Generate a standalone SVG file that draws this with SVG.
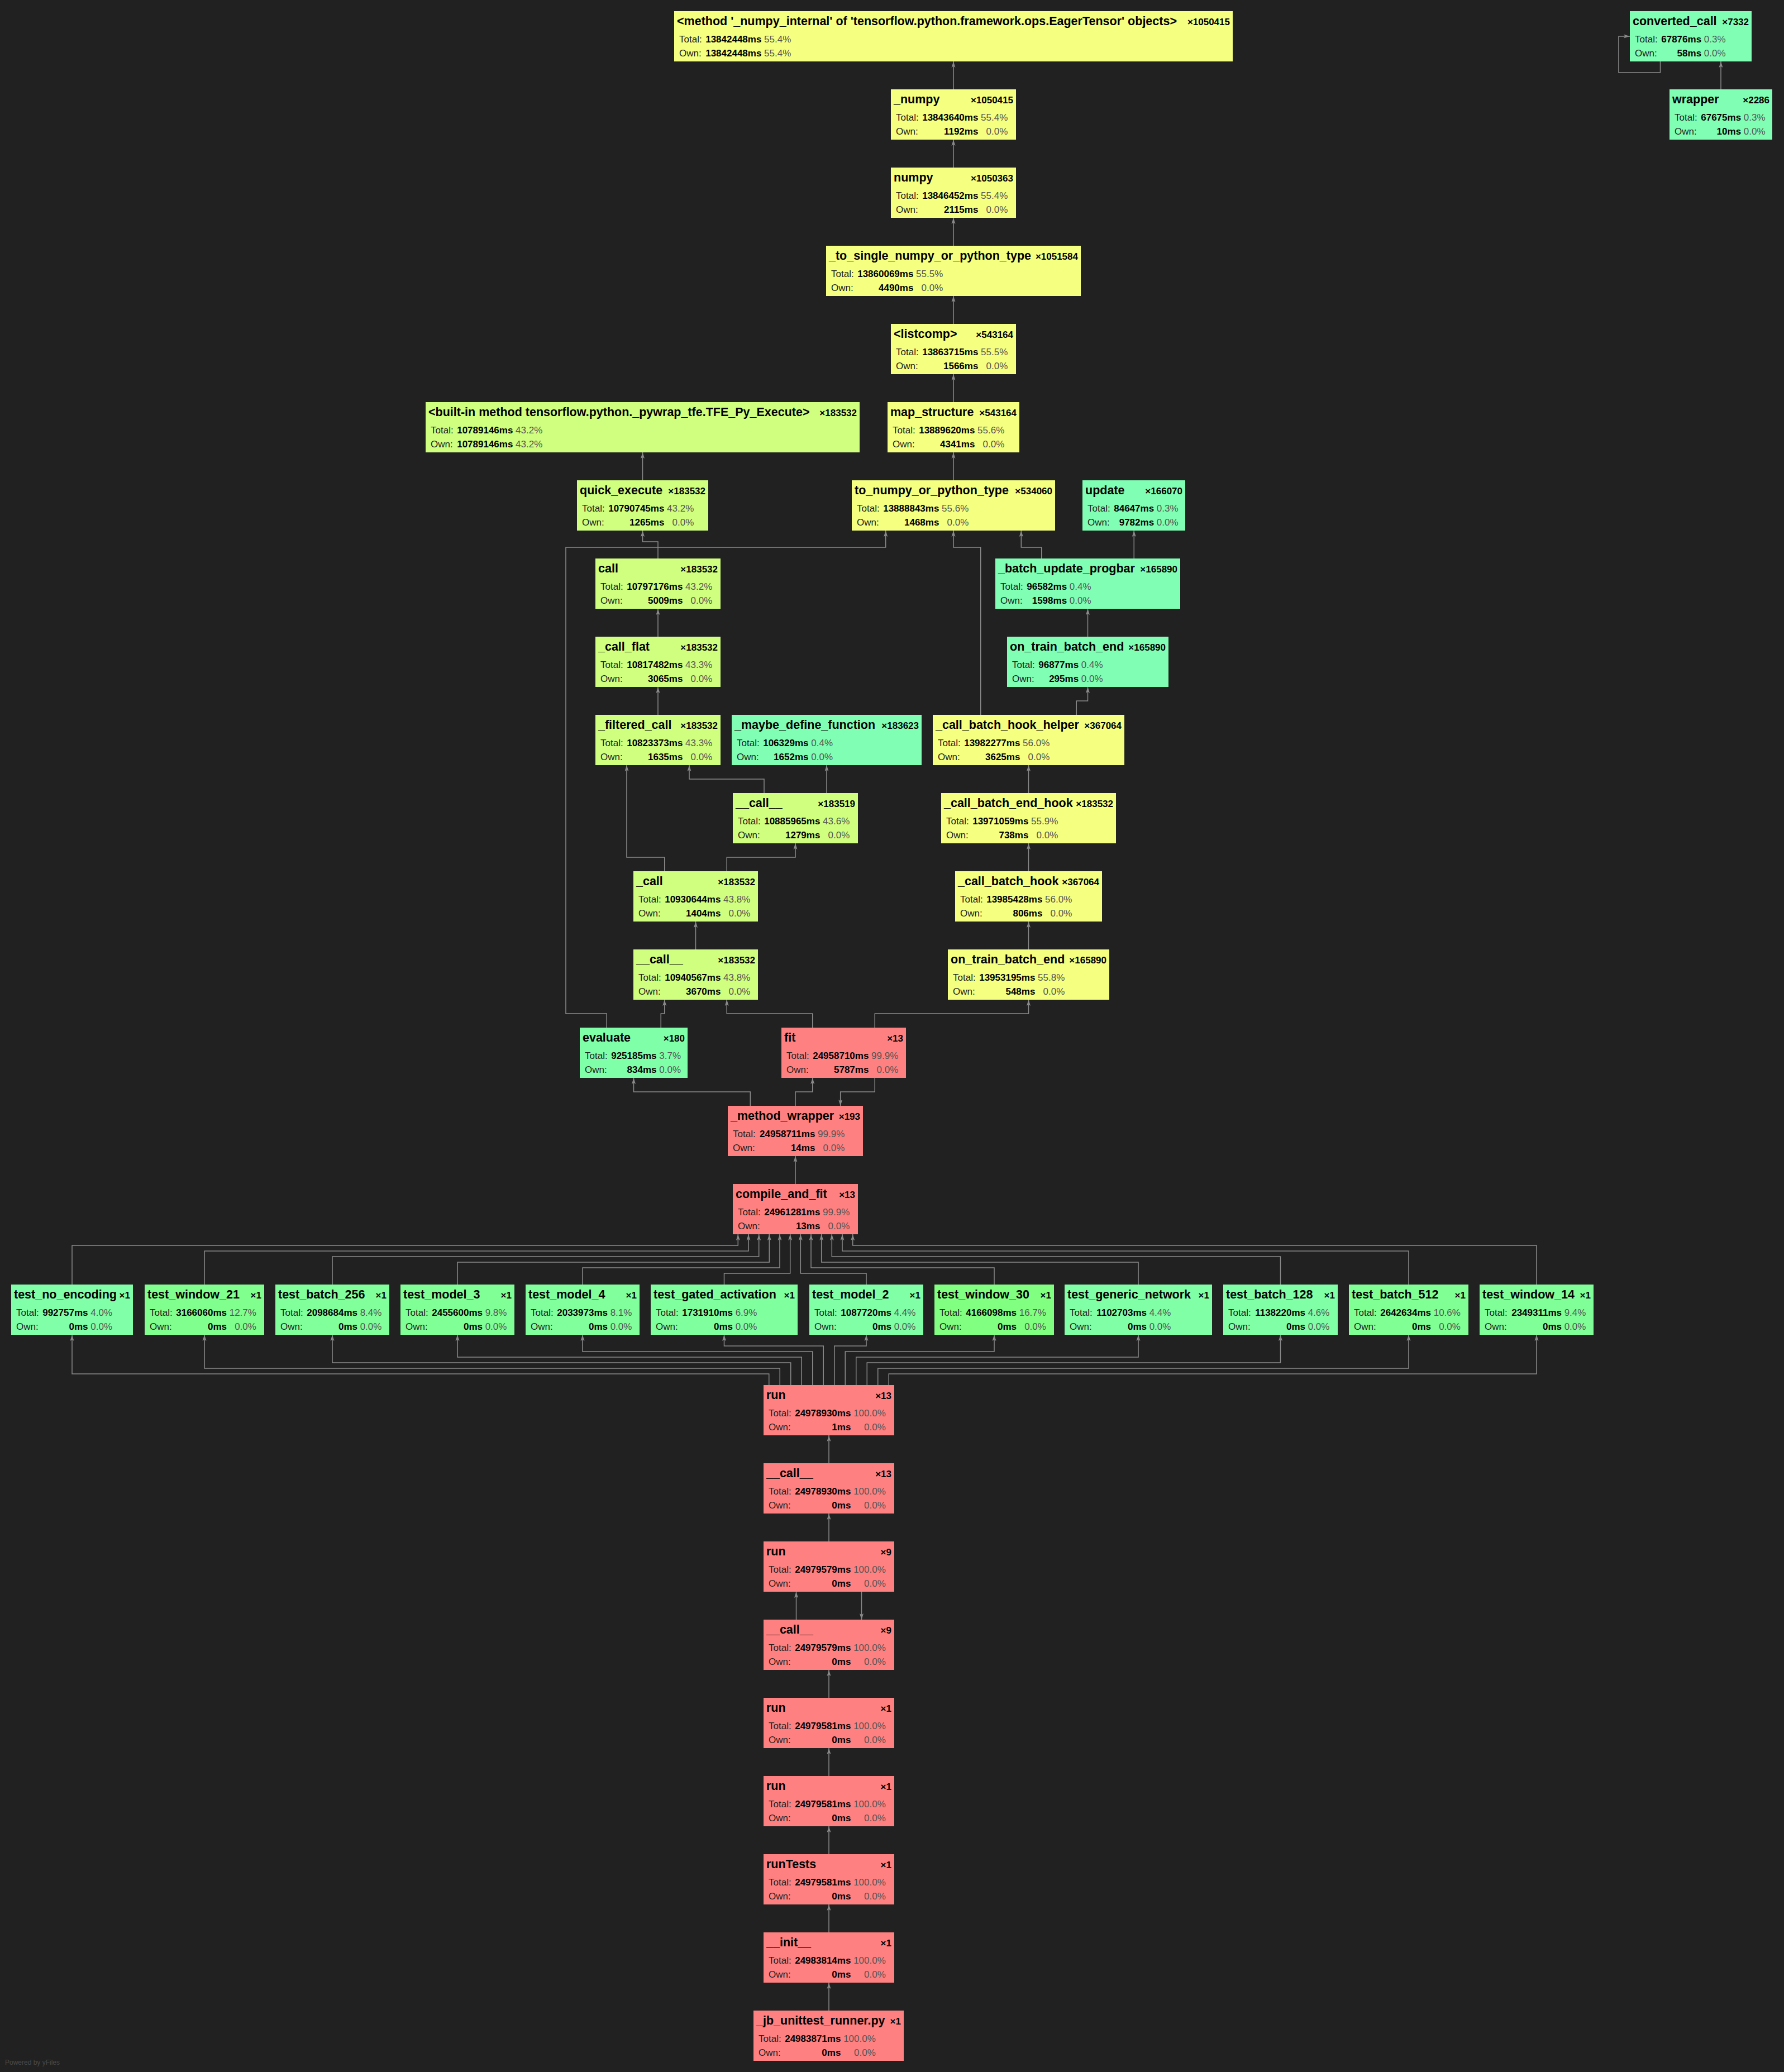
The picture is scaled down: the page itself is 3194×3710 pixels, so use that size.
<svg xmlns="http://www.w3.org/2000/svg" width="3194" height="3710" viewBox="0 0 3194 3710">
<style>
.t{font-family:"Liberation Sans",Arial,sans-serif;font-size:21.5px;font-weight:bold;fill:#000}
.c{font-family:"Liberation Sans",Arial,sans-serif;font-size:17px;font-weight:bold;fill:#000;text-anchor:end}
.l{font-family:"Liberation Sans",Arial,sans-serif;font-size:17px;fill:#222}
.v{font-family:"Liberation Sans",Arial,sans-serif;font-size:17px;font-weight:bold;fill:#000;text-anchor:end}
.p{font-family:"Liberation Sans",Arial,sans-serif;font-size:17px;fill:#555;text-anchor:end}
.e{fill:none;stroke:#8a8a8a;stroke-width:1.5;marker-end:url(#a)}
.y1{fill:hsl(64.5,100%,75%)}
.y2{fill:hsl(82,100%,75%)}
.g0{fill:hsl(144.5,100%,75%)}
.r{fill:#ff8080}
.f{font-family:"Liberation Sans",Arial,sans-serif;font-size:12px;fill:#4a4a4a}
</style>
<defs>
<marker id="a" markerUnits="userSpaceOnUse" markerWidth="12" markerHeight="8" refX="11" refY="4" orient="auto">
<path d="M0,0.5 L11,4 L0,7.5 L2.5,4 z" fill="#8a8a8a"/>
</marker>
</defs>
<rect width="3194" height="3710" fill="#212121"/>

<g id="edges">
<path class="e" d="M1707,160 V110"/>
<path class="e" d="M1707,300 V250"/>
<path class="e" d="M1707,440 V390"/>
<path class="e" d="M1707,580 V530"/>
<path class="e" d="M1707,720 V670"/>
<path class="e" d="M1707,860 V810"/>
<path class="e" d="M1150.5,860 V810"/>
<path class="e" d="M1178,1000 V970 H1150.5 V950"/>
<path class="e" d="M1178,1140 V1090"/>
<path class="e" d="M1178,1280 V1230"/>
<path class="e" d="M1189.75,1560 V1535 H1122 V1370"/>
<path class="e" d="M1368,1420 V1395 H1234 V1370"/>
<path class="e" d="M1480,1420 V1370"/>
<path class="e" d="M1301.25,1560 V1535 H1424 V1510"/>
<path class="e" d="M1245.5,1700 V1650"/>
<path class="e" d="M1183.25,1840 V1815 H1189.75 V1790"/>
<path class="e" d="M1086.25,1840 V1815 H1013 V980 H1585.7 V950"/>
<path class="e" d="M1454.75,1840 V1815 H1301.25 V1790"/>
<path class="e" d="M1566.25,1840 V1815 H1841.5 V1790"/>
<path class="e" d="M1841.5,1700 V1650"/>
<path class="e" d="M1841.5,1560 V1510"/>
<path class="e" d="M1841.5,1420 V1370"/>
<path class="e" d="M1755.75,1280 V980 H1707 V950"/>
<path class="e" d="M1927.25,1280 V1255 H1947.5 V1230"/>
<path class="e" d="M1947.5,1140 V1090"/>
<path class="e" d="M1864.75,1000 V980 H1828.3 V950"/>
<path class="e" d="M2030.25,1000 V950"/>
<path class="e" d="M1343.3,1980 V1955 H1134.5 V1930"/>
<path class="e" d="M1424,1980 V1955 H1454.75 V1930"/>
<path class="e" d="M1566.25,1930 V1955 H1504.7 V1980"/>
<path class="e" d="M1424,2120 V2070"/>
<path class="e" d="M129,2300 V2230 H1321.3 V2210"/>
<path class="e" d="M366,2300 V2240 H1340 V2210"/>
<path class="e" d="M595,2300 V2250 H1358.7 V2210"/>
<path class="e" d="M819,2300 V2260 H1377.3 V2210"/>
<path class="e" d="M1043,2300 V2270 H1396 V2210"/>
<path class="e" d="M1296.5,2300 V2280 H1414.7 V2210"/>
<path class="e" d="M1551,2300 V2280 H1433.3 V2210"/>
<path class="e" d="M1780,2300 V2270 H1452 V2210"/>
<path class="e" d="M2038,2300 V2260 H1470.7 V2210"/>
<path class="e" d="M2292.5,2300 V2250 H1489.3 V2210"/>
<path class="e" d="M2522,2300 V2240 H1508 V2210"/>
<path class="e" d="M2751,2300 V2230 H1526.7 V2210"/>
<path class="e" d="M1376.75,2480 V2460 H129 V2390"/>
<path class="e" d="M1396.25,2480 V2450 H366 V2390"/>
<path class="e" d="M1415.75,2480 V2440 H595 V2390"/>
<path class="e" d="M1435.25,2480 V2430 H819 V2390"/>
<path class="e" d="M1454.75,2480 V2420 H1043 V2390"/>
<path class="e" d="M1474.25,2480 V2410 H1296.5 V2390"/>
<path class="e" d="M1493.75,2480 V2410 H1551 V2390"/>
<path class="e" d="M1513.25,2480 V2420 H1780 V2390"/>
<path class="e" d="M1532.75,2480 V2430 H2038 V2390"/>
<path class="e" d="M1552.25,2480 V2440 H2292.5 V2390"/>
<path class="e" d="M1571.75,2480 V2450 H2522 V2390"/>
<path class="e" d="M1591.25,2480 V2460 H2751 V2390"/>
<path class="e" d="M1484,2620 V2570"/>
<path class="e" d="M1484,2760 V2710"/>
<path class="e" d="M1425.5,2900 V2850"/>
<path class="e" d="M1542.5,2850 V2900"/>
<path class="e" d="M1484,3040 V2990"/>
<path class="e" d="M1484,3180 V3130"/>
<path class="e" d="M1484,3320 V3270"/>
<path class="e" d="M1484,3460 V3410"/>
<path class="e" d="M1484,3600 V3550"/>
<path class="e" d="M3081,160 V110"/>
<path class="e" d="M2972.5,110 V130 H2898 V65 H2918"/>
</g>

<g id="n-numpy-internal"><rect class="y1" x="1207" y="20" width="1000" height="90"/>
<text class="t" x="1212" y="45">&lt;method '_numpy_internal' of 'tensorflow.python.framework.ops.EagerTensor' objects&gt;</text><text class="c" x="2202" y="45">×1050415</text>
<text class="l" x="1216" y="76">Total:</text><text class="v" x="1363.4" y="76">13842448ms</text><text class="p" x="1416.3" y="76">55.4%</text>
<text class="l" x="1216" y="101">Own:</text><text class="v" x="1363.4" y="101">13842448ms</text><text class="p" x="1416.3" y="101">55.4%</text></g>

<g id="n-converted-call"><rect class="g0" x="2918" y="20" width="218" height="90"/>
<text class="t" x="2923" y="45">converted_call</text><text class="c" x="3131" y="45">×7332</text>
<text class="l" x="2927" y="76">Total:</text><text class="v" x="3046.1" y="76">67876ms</text><text class="p" x="3089.6" y="76">0.3%</text>
<text class="l" x="2927" y="101">Own:</text><text class="v" x="3046.1" y="101">58ms</text><text class="p" x="3089.6" y="101">0.0%</text></g>

<g id="n-_numpy"><rect class="y1" x="1595" y="160" width="224" height="90"/>
<text class="t" x="1600" y="185">_numpy</text><text class="c" x="1814" y="185">×1050415</text>
<text class="l" x="1604" y="216">Total:</text><text class="v" x="1751.4" y="216">13843640ms</text><text class="p" x="1804.3" y="216">55.4%</text>
<text class="l" x="1604" y="241">Own:</text><text class="v" x="1751.4" y="241">1192ms</text><text class="p" x="1804.3" y="241">0.0%</text></g>

<g id="n-wrapper"><rect class="g0" x="2989" y="160" width="184" height="90"/>
<text class="t" x="2994" y="185">wrapper</text><text class="c" x="3168" y="185">×2286</text>
<text class="l" x="2998" y="216">Total:</text><text class="v" x="3117.1" y="216">67675ms</text><text class="p" x="3160.5" y="216">0.3%</text>
<text class="l" x="2998" y="241">Own:</text><text class="v" x="3117.1" y="241">10ms</text><text class="p" x="3160.5" y="241">0.0%</text></g>

<g id="n-numpy"><rect class="y1" x="1595" y="300" width="224" height="90"/>
<text class="t" x="1600" y="325">numpy</text><text class="c" x="1814" y="325">×1050363</text>
<text class="l" x="1604" y="356">Total:</text><text class="v" x="1751.4" y="356">13846452ms</text><text class="p" x="1804.3" y="356">55.4%</text>
<text class="l" x="1604" y="381">Own:</text><text class="v" x="1751.4" y="381">2115ms</text><text class="p" x="1804.3" y="381">0.0%</text></g>

<g id="n-to-single"><rect class="y1" x="1479" y="440" width="456" height="90"/>
<text class="t" x="1484" y="465">_to_single_numpy_or_python_type</text><text class="c" x="1930" y="465">×1051584</text>
<text class="l" x="1488" y="496">Total:</text><text class="v" x="1635.4" y="496">13860069ms</text><text class="p" x="1688.3" y="496">55.5%</text>
<text class="l" x="1488" y="521">Own:</text><text class="v" x="1635.4" y="521">4490ms</text><text class="p" x="1688.3" y="521">0.0%</text></g>

<g id="n-listcomp"><rect class="y1" x="1595" y="580" width="224" height="90"/>
<text class="t" x="1600" y="605">&lt;listcomp&gt;</text><text class="c" x="1814" y="605">×543164</text>
<text class="l" x="1604" y="636">Total:</text><text class="v" x="1751.4" y="636">13863715ms</text><text class="p" x="1804.3" y="636">55.5%</text>
<text class="l" x="1604" y="661">Own:</text><text class="v" x="1751.4" y="661">1566ms</text><text class="p" x="1804.3" y="661">0.0%</text></g>

<g id="n-builtin"><rect class="y2" x="762" y="720" width="777" height="90"/>
<text class="t" x="767" y="745">&lt;built-in method tensorflow.python._pywrap_tfe.TFE_Py_Execute&gt;</text><text class="c" x="1534" y="745">×183532</text>
<text class="l" x="771" y="776">Total:</text><text class="v" x="918.4" y="776">10789146ms</text><text class="p" x="971.3" y="776">43.2%</text>
<text class="l" x="771" y="801">Own:</text><text class="v" x="918.4" y="801">10789146ms</text><text class="p" x="971.3" y="801">43.2%</text></g>

<g id="n-map-structure"><rect class="y1" x="1589" y="720" width="236" height="90"/>
<text class="t" x="1594" y="745">map_structure</text><text class="c" x="1820" y="745">×543164</text>
<text class="l" x="1598" y="776">Total:</text><text class="v" x="1745.4" y="776">13889620ms</text><text class="p" x="1798.3" y="776">55.6%</text>
<text class="l" x="1598" y="801">Own:</text><text class="v" x="1745.4" y="801">4341ms</text><text class="p" x="1798.3" y="801">0.0%</text></g>

<g id="n-quick-execute"><rect class="y2" x="1033" y="860" width="235" height="90"/>
<text class="t" x="1038" y="885">quick_execute</text><text class="c" x="1263" y="885">×183532</text>
<text class="l" x="1042" y="916">Total:</text><text class="v" x="1189.4" y="916">10790745ms</text><text class="p" x="1242.3" y="916">43.2%</text>
<text class="l" x="1042" y="941">Own:</text><text class="v" x="1189.4" y="941">1265ms</text><text class="p" x="1242.3" y="941">0.0%</text></g>

<g id="n-to-numpy"><rect class="y1" x="1525" y="860" width="364" height="90"/>
<text class="t" x="1530" y="885">to_numpy_or_python_type</text><text class="c" x="1884" y="885">×534060</text>
<text class="l" x="1534" y="916">Total:</text><text class="v" x="1681.4" y="916">13888843ms</text><text class="p" x="1734.3" y="916">55.6%</text>
<text class="l" x="1534" y="941">Own:</text><text class="v" x="1681.4" y="941">1468ms</text><text class="p" x="1734.3" y="941">0.0%</text></g>

<g id="n-update"><rect class="g0" x="1938" y="860" width="184" height="90"/>
<text class="t" x="1943" y="885">update</text><text class="c" x="2117" y="885">×166070</text>
<text class="l" x="1947" y="916">Total:</text><text class="v" x="2066.1" y="916">84647ms</text><text class="p" x="2109.5" y="916">0.3%</text>
<text class="l" x="1947" y="941">Own:</text><text class="v" x="2066.1" y="941">9782ms</text><text class="p" x="2109.5" y="941">0.0%</text></g>

<g id="n-call"><rect class="y2" x="1066" y="1000" width="224" height="90"/>
<text class="t" x="1071" y="1025">call</text><text class="c" x="1285" y="1025">×183532</text>
<text class="l" x="1075" y="1056">Total:</text><text class="v" x="1222.4" y="1056">10797176ms</text><text class="p" x="1275.3" y="1056">43.2%</text>
<text class="l" x="1075" y="1081">Own:</text><text class="v" x="1222.4" y="1081">5009ms</text><text class="p" x="1275.3" y="1081">0.0%</text></g>

<g id="n-progbar"><rect class="g0" x="1782" y="1000" width="331" height="90"/>
<text class="t" x="1787" y="1025">_batch_update_progbar</text><text class="c" x="2108" y="1025">×165890</text>
<text class="l" x="1791" y="1056">Total:</text><text class="v" x="1910.1" y="1056">96582ms</text><text class="p" x="1953.5" y="1056">0.4%</text>
<text class="l" x="1791" y="1081">Own:</text><text class="v" x="1910.1" y="1081">1598ms</text><text class="p" x="1953.5" y="1081">0.0%</text></g>

<g id="n-call-flat"><rect class="y2" x="1066" y="1140" width="224" height="90"/>
<text class="t" x="1071" y="1165">_call_flat</text><text class="c" x="1285" y="1165">×183532</text>
<text class="l" x="1075" y="1196">Total:</text><text class="v" x="1222.4" y="1196">10817482ms</text><text class="p" x="1275.3" y="1196">43.3%</text>
<text class="l" x="1075" y="1221">Own:</text><text class="v" x="1222.4" y="1221">3065ms</text><text class="p" x="1275.3" y="1221">0.0%</text></g>

<g id="n-on-train-green"><rect class="g0" x="1803" y="1140" width="289" height="90"/>
<text class="t" x="1808" y="1165">on_train_batch_end</text><text class="c" x="2087" y="1165">×165890</text>
<text class="l" x="1812" y="1196">Total:</text><text class="v" x="1931.1" y="1196">96877ms</text><text class="p" x="1974.5" y="1196">0.4%</text>
<text class="l" x="1812" y="1221">Own:</text><text class="v" x="1931.1" y="1221">295ms</text><text class="p" x="1974.5" y="1221">0.0%</text></g>

<g id="n-filtered-call"><rect class="y2" x="1066" y="1280" width="224" height="90"/>
<text class="t" x="1071" y="1305">_filtered_call</text><text class="c" x="1285" y="1305">×183532</text>
<text class="l" x="1075" y="1336">Total:</text><text class="v" x="1222.4" y="1336">10823373ms</text><text class="p" x="1275.3" y="1336">43.3%</text>
<text class="l" x="1075" y="1361">Own:</text><text class="v" x="1222.4" y="1361">1635ms</text><text class="p" x="1275.3" y="1361">0.0%</text></g>

<g id="n-maybe-define"><rect class="g0" x="1310" y="1280" width="340" height="90"/>
<text class="t" x="1315" y="1305">_maybe_define_function</text><text class="c" x="1645" y="1305">×183623</text>
<text class="l" x="1319" y="1336">Total:</text><text class="v" x="1447.5" y="1336">106329ms</text><text class="p" x="1491" y="1336">0.4%</text>
<text class="l" x="1319" y="1361">Own:</text><text class="v" x="1447.5" y="1361">1652ms</text><text class="p" x="1491" y="1361">0.0%</text></g>

<g id="n-hook-helper"><rect class="y1" x="1670" y="1280" width="343" height="90"/>
<text class="t" x="1675" y="1305">_call_batch_hook_helper</text><text class="c" x="2008" y="1305">×367064</text>
<text class="l" x="1679" y="1336">Total:</text><text class="v" x="1826.4" y="1336">13982277ms</text><text class="p" x="1879.3" y="1336">56.0%</text>
<text class="l" x="1679" y="1361">Own:</text><text class="v" x="1826.4" y="1361">3625ms</text><text class="p" x="1879.3" y="1361">0.0%</text></g>

<g id="n-dcall-183519"><rect class="y2" x="1312" y="1420" width="224" height="90"/>
<text class="t" x="1317" y="1445">__call__</text><text class="c" x="1531" y="1445">×183519</text>
<text class="l" x="1321" y="1476">Total:</text><text class="v" x="1468.4" y="1476">10885965ms</text><text class="p" x="1521.3" y="1476">43.6%</text>
<text class="l" x="1321" y="1501">Own:</text><text class="v" x="1468.4" y="1501">1279ms</text><text class="p" x="1521.3" y="1501">0.0%</text></g>

<g id="n-end-hook"><rect class="y1" x="1685" y="1420" width="313" height="90"/>
<text class="t" x="1690" y="1445">_call_batch_end_hook</text><text class="c" x="1993" y="1445">×183532</text>
<text class="l" x="1694" y="1476">Total:</text><text class="v" x="1841.4" y="1476">13971059ms</text><text class="p" x="1894.3" y="1476">55.9%</text>
<text class="l" x="1694" y="1501">Own:</text><text class="v" x="1841.4" y="1501">738ms</text><text class="p" x="1894.3" y="1501">0.0%</text></g>

<g id="n-_call"><rect class="y2" x="1134" y="1560" width="223" height="90"/>
<text class="t" x="1139" y="1585">_call</text><text class="c" x="1352" y="1585">×183532</text>
<text class="l" x="1143" y="1616">Total:</text><text class="v" x="1290.4" y="1616">10930644ms</text><text class="p" x="1343.3" y="1616">43.8%</text>
<text class="l" x="1143" y="1641">Own:</text><text class="v" x="1290.4" y="1641">1404ms</text><text class="p" x="1343.3" y="1641">0.0%</text></g>

<g id="n-batch-hook"><rect class="y1" x="1710" y="1560" width="263" height="90"/>
<text class="t" x="1715" y="1585">_call_batch_hook</text><text class="c" x="1968" y="1585">×367064</text>
<text class="l" x="1719" y="1616">Total:</text><text class="v" x="1866.4" y="1616">13985428ms</text><text class="p" x="1919.3" y="1616">56.0%</text>
<text class="l" x="1719" y="1641">Own:</text><text class="v" x="1866.4" y="1641">806ms</text><text class="p" x="1919.3" y="1641">0.0%</text></g>

<g id="n-dcall-183532"><rect class="y2" x="1134" y="1700" width="223" height="90"/>
<text class="t" x="1139" y="1725">__call__</text><text class="c" x="1352" y="1725">×183532</text>
<text class="l" x="1143" y="1756">Total:</text><text class="v" x="1290.4" y="1756">10940567ms</text><text class="p" x="1343.3" y="1756">43.8%</text>
<text class="l" x="1143" y="1781">Own:</text><text class="v" x="1290.4" y="1781">3670ms</text><text class="p" x="1343.3" y="1781">0.0%</text></g>

<g id="n-on-train-yellow"><rect class="y1" x="1697" y="1700" width="289" height="90"/>
<text class="t" x="1702" y="1725">on_train_batch_end</text><text class="c" x="1981" y="1725">×165890</text>
<text class="l" x="1706" y="1756">Total:</text><text class="v" x="1853.4" y="1756">13953195ms</text><text class="p" x="1906.3" y="1756">55.8%</text>
<text class="l" x="1706" y="1781">Own:</text><text class="v" x="1853.4" y="1781">548ms</text><text class="p" x="1906.3" y="1781">0.0%</text></g>

<g id="n-evaluate"><rect x="1038" y="1840" width="193" height="90" fill="hsl(139.6,100%,75%)"/>
<text class="t" x="1043" y="1865">evaluate</text><text class="c" x="1226" y="1865">×180</text>
<text class="l" x="1047" y="1896">Total:</text><text class="v" x="1175.5" y="1896">925185ms</text><text class="p" x="1219" y="1896">3.7%</text>
<text class="l" x="1047" y="1921">Own:</text><text class="v" x="1175.5" y="1921">834ms</text><text class="p" x="1219" y="1921">0.0%</text></g>

<g id="n-fit"><rect class="r" x="1399" y="1840" width="223" height="90"/>
<text class="t" x="1404" y="1865">fit</text><text class="c" x="1617" y="1865">×13</text>
<text class="l" x="1408" y="1896">Total:</text><text class="v" x="1555.4" y="1896">24958710ms</text><text class="p" x="1608.3" y="1896">99.9%</text>
<text class="l" x="1408" y="1921">Own:</text><text class="v" x="1555.4" y="1921">5787ms</text><text class="p" x="1608.3" y="1921">0.0%</text></g>

<g id="n-method-wrapper"><rect class="r" x="1303" y="1980" width="242" height="90"/>
<text class="t" x="1308" y="2005">_method_wrapper</text><text class="c" x="1540" y="2005">×193</text>
<text class="l" x="1312" y="2036">Total:</text><text class="v" x="1459.4" y="2036">24958711ms</text><text class="p" x="1512.3" y="2036">99.9%</text>
<text class="l" x="1312" y="2061">Own:</text><text class="v" x="1459.4" y="2061">14ms</text><text class="p" x="1512.3" y="2061">0.0%</text></g>

<g id="n-compile-and-fit"><rect class="r" x="1312" y="2120" width="224" height="90"/>
<text class="t" x="1317" y="2145">compile_and_fit</text><text class="c" x="1531" y="2145">×13</text>
<text class="l" x="1321" y="2176">Total:</text><text class="v" x="1468.4" y="2176">24961281ms</text><text class="p" x="1521.3" y="2176">99.9%</text>
<text class="l" x="1321" y="2201">Own:</text><text class="v" x="1468.4" y="2201">13ms</text><text class="p" x="1521.3" y="2201">0.0%</text></g>

<g id="n-test-no-encoding"><rect x="20" y="2300" width="218" height="90" fill="hsl(139.2,100%,75%)"/>
<text class="t" x="25" y="2325">test_no_encoding</text><text class="c" x="233" y="2325">×1</text>
<text class="l" x="29" y="2356">Total:</text><text class="v" x="157.5" y="2356">992757ms</text><text class="p" x="201" y="2356">4.0%</text>
<text class="l" x="29" y="2381">Own:</text><text class="v" x="157.5" y="2381">0ms</text><text class="p" x="201" y="2381">0.0%</text></g>

<g id="n-test-window-21"><rect x="259" y="2300" width="214" height="90" fill="hsl(126.6,100%,75%)"/>
<text class="t" x="264" y="2325">test_window_21</text><text class="c" x="468" y="2325">×1</text>
<text class="l" x="268" y="2356">Total:</text><text class="v" x="406" y="2356">3166060ms</text><text class="p" x="458.9" y="2356">12.7%</text>
<text class="l" x="268" y="2381">Own:</text><text class="v" x="406" y="2381">0ms</text><text class="p" x="458.9" y="2381">0.0%</text></g>

<g id="n-test-batch-256"><rect x="493" y="2300" width="204" height="90" fill="hsl(132.8,100%,75%)"/>
<text class="t" x="498" y="2325">test_batch_256</text><text class="c" x="692" y="2325">×1</text>
<text class="l" x="502" y="2356">Total:</text><text class="v" x="640" y="2356">2098684ms</text><text class="p" x="683.4" y="2356">8.4%</text>
<text class="l" x="502" y="2381">Own:</text><text class="v" x="640" y="2381">0ms</text><text class="p" x="683.4" y="2381">0.0%</text></g>

<g id="n-test-model-3"><rect x="717" y="2300" width="204" height="90" fill="hsl(130.8,100%,75%)"/>
<text class="t" x="722" y="2325">test_model_3</text><text class="c" x="916" y="2325">×1</text>
<text class="l" x="726" y="2356">Total:</text><text class="v" x="864" y="2356">2455600ms</text><text class="p" x="907.4" y="2356">9.8%</text>
<text class="l" x="726" y="2381">Own:</text><text class="v" x="864" y="2381">0ms</text><text class="p" x="907.4" y="2381">0.0%</text></g>

<g id="n-test-model-4"><rect x="941" y="2300" width="204" height="90" fill="hsl(133.3,100%,75%)"/>
<text class="t" x="946" y="2325">test_model_4</text><text class="c" x="1140" y="2325">×1</text>
<text class="l" x="950" y="2356">Total:</text><text class="v" x="1088" y="2356">2033973ms</text><text class="p" x="1131.4" y="2356">8.1%</text>
<text class="l" x="950" y="2381">Own:</text><text class="v" x="1088" y="2381">0ms</text><text class="p" x="1131.4" y="2381">0.0%</text></g>

<g id="n-test-gated-activation"><rect x="1165" y="2300" width="263" height="90" fill="hsl(135,100%,75%)"/>
<text class="t" x="1170" y="2325">test_gated_activation</text><text class="c" x="1423" y="2325">×1</text>
<text class="l" x="1174" y="2356">Total:</text><text class="v" x="1312" y="2356">1731910ms</text><text class="p" x="1355.4" y="2356">6.9%</text>
<text class="l" x="1174" y="2381">Own:</text><text class="v" x="1312" y="2381">0ms</text><text class="p" x="1355.4" y="2381">0.0%</text></g>

<g id="n-test-model-2"><rect x="1449" y="2300" width="204" height="90" fill="hsl(138.6,100%,75%)"/>
<text class="t" x="1454" y="2325">test_model_2</text><text class="c" x="1648" y="2325">×1</text>
<text class="l" x="1458" y="2356">Total:</text><text class="v" x="1596" y="2356">1087720ms</text><text class="p" x="1639.4" y="2356">4.4%</text>
<text class="l" x="1458" y="2381">Own:</text><text class="v" x="1596" y="2381">0ms</text><text class="p" x="1639.4" y="2381">0.0%</text></g>

<g id="n-test-window-30"><rect x="1673" y="2300" width="214" height="90" fill="hsl(120.8,100%,75%)"/>
<text class="t" x="1678" y="2325">test_window_30</text><text class="c" x="1882" y="2325">×1</text>
<text class="l" x="1682" y="2356">Total:</text><text class="v" x="1820" y="2356">4166098ms</text><text class="p" x="1872.9" y="2356">16.7%</text>
<text class="l" x="1682" y="2381">Own:</text><text class="v" x="1820" y="2381">0ms</text><text class="p" x="1872.9" y="2381">0.0%</text></g>

<g id="n-test-generic-network"><rect x="1906" y="2300" width="264" height="90" fill="hsl(138.6,100%,75%)"/>
<text class="t" x="1911" y="2325">test_generic_network</text><text class="c" x="2165" y="2325">×1</text>
<text class="l" x="1915" y="2356">Total:</text><text class="v" x="2053" y="2356">1102703ms</text><text class="p" x="2096.4" y="2356">4.4%</text>
<text class="l" x="1915" y="2381">Own:</text><text class="v" x="2053" y="2381">0ms</text><text class="p" x="2096.4" y="2381">0.0%</text></g>

<g id="n-test-batch-128"><rect x="2190" y="2300" width="205" height="90" fill="hsl(138.3,100%,75%)"/>
<text class="t" x="2195" y="2325">test_batch_128</text><text class="c" x="2390" y="2325">×1</text>
<text class="l" x="2199" y="2356">Total:</text><text class="v" x="2337" y="2356">1138220ms</text><text class="p" x="2380.4" y="2356">4.6%</text>
<text class="l" x="2199" y="2381">Own:</text><text class="v" x="2337" y="2381">0ms</text><text class="p" x="2380.4" y="2381">0.0%</text></g>

<g id="n-test-batch-512"><rect x="2415" y="2300" width="214" height="90" fill="hsl(129.6,100%,75%)"/>
<text class="t" x="2420" y="2325">test_batch_512</text><text class="c" x="2624" y="2325">×1</text>
<text class="l" x="2424" y="2356">Total:</text><text class="v" x="2562" y="2356">2642634ms</text><text class="p" x="2614.9" y="2356">10.6%</text>
<text class="l" x="2424" y="2381">Own:</text><text class="v" x="2562" y="2381">0ms</text><text class="p" x="2614.9" y="2381">0.0%</text></g>

<g id="n-test-window-14"><rect x="2649" y="2300" width="204" height="90" fill="hsl(131.4,100%,75%)"/>
<text class="t" x="2654" y="2325">test_window_14</text><text class="c" x="2848" y="2325">×1</text>
<text class="l" x="2658" y="2356">Total:</text><text class="v" x="2796" y="2356">2349311ms</text><text class="p" x="2839.4" y="2356">9.4%</text>
<text class="l" x="2658" y="2381">Own:</text><text class="v" x="2796" y="2381">0ms</text><text class="p" x="2839.4" y="2381">0.0%</text></g>

<g id="n-run-13"><rect class="r" x="1367" y="2480" width="234" height="90"/>
<text class="t" x="1372" y="2505">run</text><text class="c" x="1596" y="2505">×13</text>
<text class="l" x="1376" y="2536">Total:</text><text class="v" x="1523.4" y="2536">24978930ms</text><text class="p" x="1585.8" y="2536">100.0%</text>
<text class="l" x="1376" y="2561">Own:</text><text class="v" x="1523.4" y="2561">1ms</text><text class="p" x="1585.8" y="2561">0.0%</text></g>

<g id="n-dcall-13"><rect class="r" x="1367" y="2620" width="234" height="90"/>
<text class="t" x="1372" y="2645">__call__</text><text class="c" x="1596" y="2645">×13</text>
<text class="l" x="1376" y="2676">Total:</text><text class="v" x="1523.4" y="2676">24978930ms</text><text class="p" x="1585.8" y="2676">100.0%</text>
<text class="l" x="1376" y="2701">Own:</text><text class="v" x="1523.4" y="2701">0ms</text><text class="p" x="1585.8" y="2701">0.0%</text></g>

<g id="n-run-9"><rect class="r" x="1367" y="2760" width="234" height="90"/>
<text class="t" x="1372" y="2785">run</text><text class="c" x="1596" y="2785">×9</text>
<text class="l" x="1376" y="2816">Total:</text><text class="v" x="1523.4" y="2816">24979579ms</text><text class="p" x="1585.8" y="2816">100.0%</text>
<text class="l" x="1376" y="2841">Own:</text><text class="v" x="1523.4" y="2841">0ms</text><text class="p" x="1585.8" y="2841">0.0%</text></g>

<g id="n-dcall-9"><rect class="r" x="1367" y="2900" width="234" height="90"/>
<text class="t" x="1372" y="2925">__call__</text><text class="c" x="1596" y="2925">×9</text>
<text class="l" x="1376" y="2956">Total:</text><text class="v" x="1523.4" y="2956">24979579ms</text><text class="p" x="1585.8" y="2956">100.0%</text>
<text class="l" x="1376" y="2981">Own:</text><text class="v" x="1523.4" y="2981">0ms</text><text class="p" x="1585.8" y="2981">0.0%</text></g>

<g id="n-run-1a"><rect class="r" x="1367" y="3040" width="234" height="90"/>
<text class="t" x="1372" y="3065">run</text><text class="c" x="1596" y="3065">×1</text>
<text class="l" x="1376" y="3096">Total:</text><text class="v" x="1523.4" y="3096">24979581ms</text><text class="p" x="1585.8" y="3096">100.0%</text>
<text class="l" x="1376" y="3121">Own:</text><text class="v" x="1523.4" y="3121">0ms</text><text class="p" x="1585.8" y="3121">0.0%</text></g>

<g id="n-run-1b"><rect class="r" x="1367" y="3180" width="234" height="90"/>
<text class="t" x="1372" y="3205">run</text><text class="c" x="1596" y="3205">×1</text>
<text class="l" x="1376" y="3236">Total:</text><text class="v" x="1523.4" y="3236">24979581ms</text><text class="p" x="1585.8" y="3236">100.0%</text>
<text class="l" x="1376" y="3261">Own:</text><text class="v" x="1523.4" y="3261">0ms</text><text class="p" x="1585.8" y="3261">0.0%</text></g>

<g id="n-runtests"><rect class="r" x="1367" y="3320" width="234" height="90"/>
<text class="t" x="1372" y="3345">runTests</text><text class="c" x="1596" y="3345">×1</text>
<text class="l" x="1376" y="3376">Total:</text><text class="v" x="1523.4" y="3376">24979581ms</text><text class="p" x="1585.8" y="3376">100.0%</text>
<text class="l" x="1376" y="3401">Own:</text><text class="v" x="1523.4" y="3401">0ms</text><text class="p" x="1585.8" y="3401">0.0%</text></g>

<g id="n-init"><rect class="r" x="1367" y="3460" width="234" height="90"/>
<text class="t" x="1372" y="3485">__init__</text><text class="c" x="1596" y="3485">×1</text>
<text class="l" x="1376" y="3516">Total:</text><text class="v" x="1523.4" y="3516">24983814ms</text><text class="p" x="1585.8" y="3516">100.0%</text>
<text class="l" x="1376" y="3541">Own:</text><text class="v" x="1523.4" y="3541">0ms</text><text class="p" x="1585.8" y="3541">0.0%</text></g>

<g id="n-jb-runner"><rect class="r" x="1349" y="3600" width="269" height="90"/>
<text class="t" x="1354" y="3625">_jb_unittest_runner.py</text><text class="c" x="1613" y="3625">×1</text>
<text class="l" x="1358" y="3656">Total:</text><text class="v" x="1505.4" y="3656">24983871ms</text><text class="p" x="1567.8" y="3656">100.0%</text>
<text class="l" x="1358" y="3681">Own:</text><text class="v" x="1505.4" y="3681">0ms</text><text class="p" x="1567.8" y="3681">0.0%</text></g>

<text class="f" x="9" y="3697">Powered by yFiles</text>
</svg>
